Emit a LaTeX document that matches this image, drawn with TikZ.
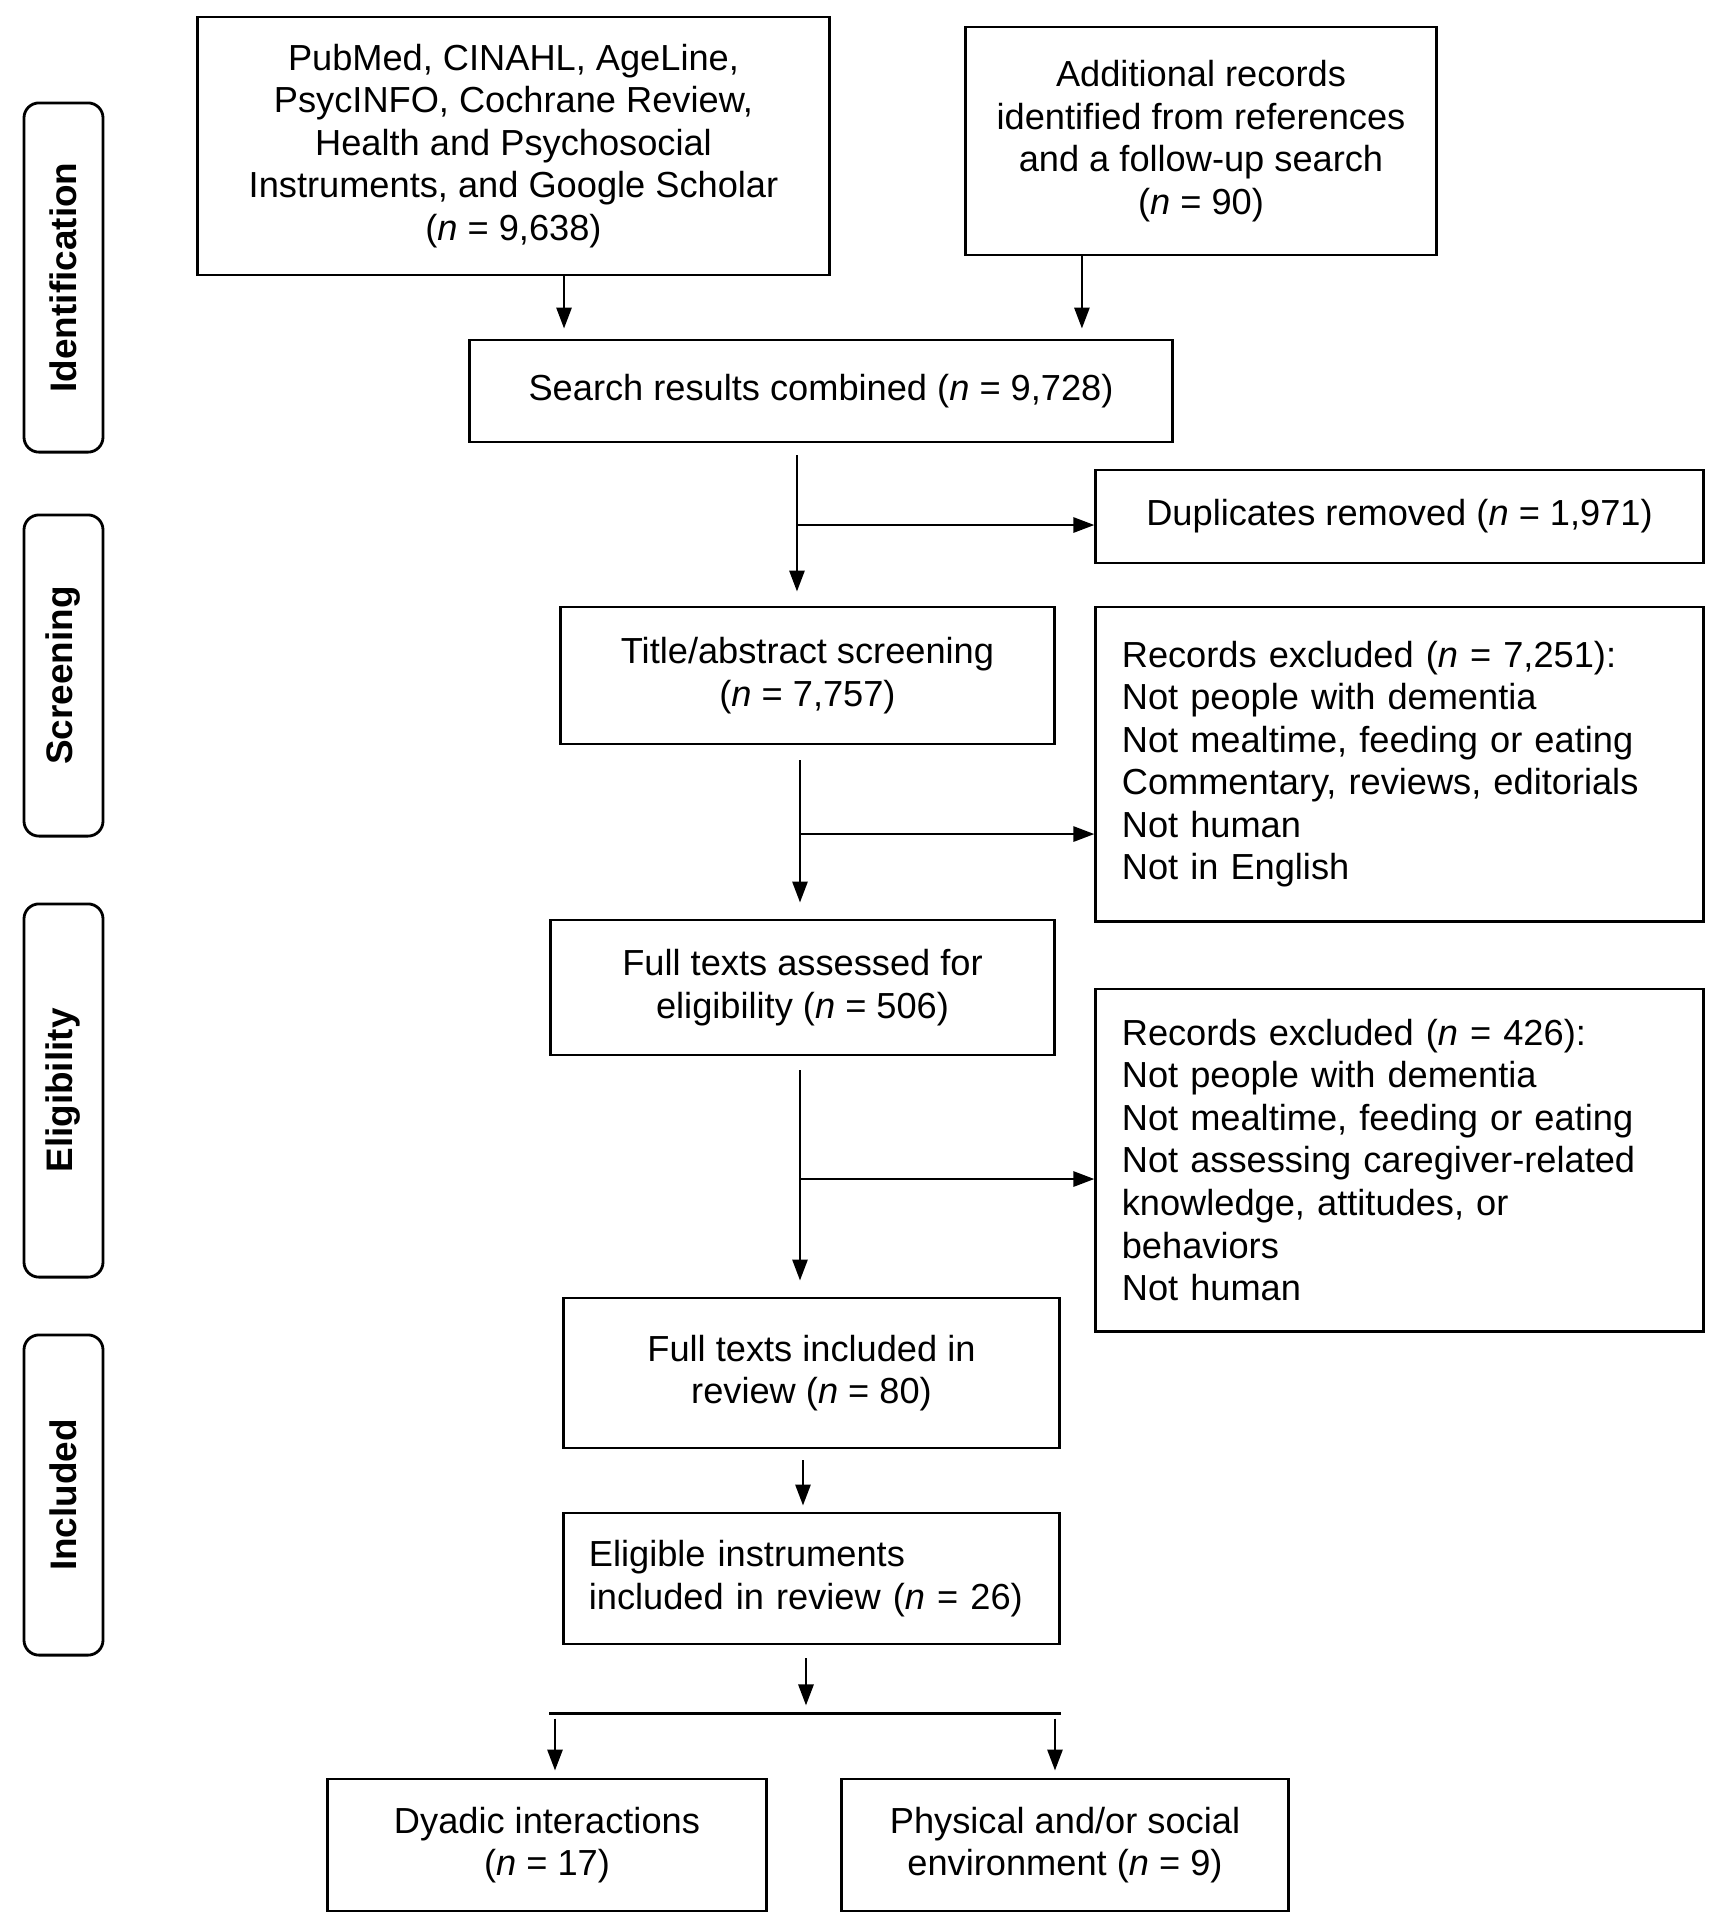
\documentclass[tikz,border=0pt]{standalone}
\usepackage{fontspec}
\setmainfont{Liberation Sans}
\usetikzlibrary{arrows.meta, calc}
\tikzset{
  box/.style={draw, line width=0.8pt, align=center, font=\fontsize{10.3}{12.1}\selectfont},
  listbox/.style={box, align=left, text width=5.55cm, inner xsep=0.26cm},
  phase/.style={draw, line width=0.8pt, rounded corners=0.15cm, minimum height=0.79cm, rotate=90, font=\bfseries\fontsize{10.5}{12.1}\selectfont},
  flow/.style={-{Triangle[length=2.1mm,width=1.5mm]}, line width=0.8pt},
}

\begin{document}
\begin{tikzpicture}[x=0.01cm, y=-0.01cm]
    \useasboundingbox (0,0) rectangle (1713,1920);

    \node[phase, minimum width=3.49cm] (ident)  at (63.5,277.5)  {Identification};
    \node[phase, minimum width=3.21cm] (screen) at (63.5,675.5)  {Screening};
    \node[phase, minimum width=3.73cm] (eligib) at (63.5,1090.5) {Eligibility};
    \node[phase, minimum width=3.20cm] (inclu)  at (63.5,1495)   {Included};

    \node[box, minimum width=6.31cm, minimum height=2.58cm] (db) at (513.5,146)
      {PubMed, CINAHL, AgeLine,\\ PsycINFO, Cochrane Review,\\ Health and Psychosocial\\ Instruments, and Google Scholar\\ (\textit{n} = 9,638)};
    \node[box, minimum width=4.70cm, minimum height=2.28cm] (add) at (1201,141)
      {Additional records\\ identified from references\\ and a follow-up search\\ (\textit{n} = 90)};
    \node[box, minimum width=7.02cm, minimum height=1.02cm] (comb) at (821,391)
      {Search results combined (\textit{n} = 9,728)};
    \node[box, minimum width=6.07cm, minimum height=0.93cm] (dup) at (1399.5,516.5)
      {Duplicates removed (\textit{n} = 1,971)};
    \node[box, minimum width=4.93cm, minimum height=1.37cm] (title) at (807.5,675.5)
      {Title/abstract screening\\ (\textit{n} = 7,757)};
    \node[listbox, minimum height=3.14cm] (excla) at (1399.5,764)
      {Records excluded (\textit{n} = 7,251):\\ Not people with dementia\\ Not mealtime, feeding or eating\\ Commentary, reviews, editorials\\ Not human\\ Not in English};
    \node[box, minimum width=5.03cm, minimum height=1.35cm] (full) at (802.5,987.5)
      {Full texts assessed for\\ eligibility (\textit{n} = 506)};
    \node[listbox, minimum height=3.42cm] (exclb) at (1399.5,1160)
      {Records excluded (\textit{n} = 426):\\ Not people with dementia\\ Not mealtime, feeding or eating\\ Not assessing caregiver-related\\ knowledge, attitudes, or\\ behaviors\\ Not human};
    \node[box, minimum width=4.95cm, minimum height=1.50cm] (incl) at (811.5,1373)
      {Full texts included in\\ review (\textit{n} = 80)};
    \node[box, align=left, text width=4.45cm, inner xsep=0.25cm, minimum height=1.31cm] (elig) at (811.5,1578.5)
      {Eligible instruments\\ included in review (\textit{n} = 26)};
    \node[box, minimum width=4.38cm, minimum height=1.32cm] (dyad) at (547,1845)
      {Dyadic interactions\\ (\textit{n} = 17)};
    \node[box, minimum width=4.46cm, minimum height=1.32cm] (phys) at (1065,1845)
      {Physical and/or social\\ environment (\textit{n} = 9)};

    \coordinate (dbout)  at ([xshift=0.505cm]db.south);
    \coordinate (addout) at ([xshift=-1.19cm]add.south);
    \coordinate (trunka) at ([xshift=-0.24cm]comb.south);
    \coordinate (trunkb) at ([xshift=-0.075cm]title.south);
    \coordinate (trunkc) at ([xshift=-0.025cm]full.south);
    \coordinate (trunkd) at ([xshift=-0.085cm]incl.south);
    \coordinate (trunke) at ([xshift=-0.055cm]elig.south);
    \coordinate (branchd) at ([yshift=-0.085cm]dup.west);
    \coordinate (brancha) at ([yshift=-0.70cm]excla.west);
    \coordinate (branchb) at ([yshift=-0.19cm]exclb.west);
    \coordinate (bar) at ([yshift=-0.68cm]elig.south);
    \coordinate (dyadin) at ([xshift=0.08cm]dyad.north);
    \coordinate (physin) at ([xshift=-0.10cm]phys.north);

    \draw[flow, shorten >=0.1cm] (dbout) -- (dbout |- comb.north);
    \draw[flow, shorten >=0.1cm] (addout) -- (addout |- comb.north);
    \draw[flow, shorten <=0.12cm, shorten >=0.14cm] (trunka) -- (trunka |- title.north);
    \draw[flow] (trunka |- branchd) -- (branchd);
    \draw[flow, shorten <=0.15cm, shorten >=0.16cm] (trunkb) -- (trunkb |- full.north);
    \draw[flow] (trunkb |- brancha) -- (brancha);
    \draw[flow, shorten <=0.14cm, shorten >=0.16cm] (trunkc) -- (trunkc |- incl.north);
    \draw[flow] (trunkc |- branchb) -- (branchb);
    \draw[flow, shorten <=0.11cm, shorten >=0.06cm] (trunkd) -- (trunkd |- elig.north);
    \draw[flow, shorten <=0.13cm, shorten >=0.08cm] (trunke) -- (trunke |- bar);
    \draw[line width=0.8pt] (bar -| full.west) -- (bar -| elig.east);
    \draw[flow, shorten <=0.05cm, shorten >=0.07cm] (dyadin |- bar) -- (dyadin);
    \draw[flow, shorten <=0.05cm, shorten >=0.07cm] (physin |- bar) -- (physin);
\end{tikzpicture}
\end{document}
